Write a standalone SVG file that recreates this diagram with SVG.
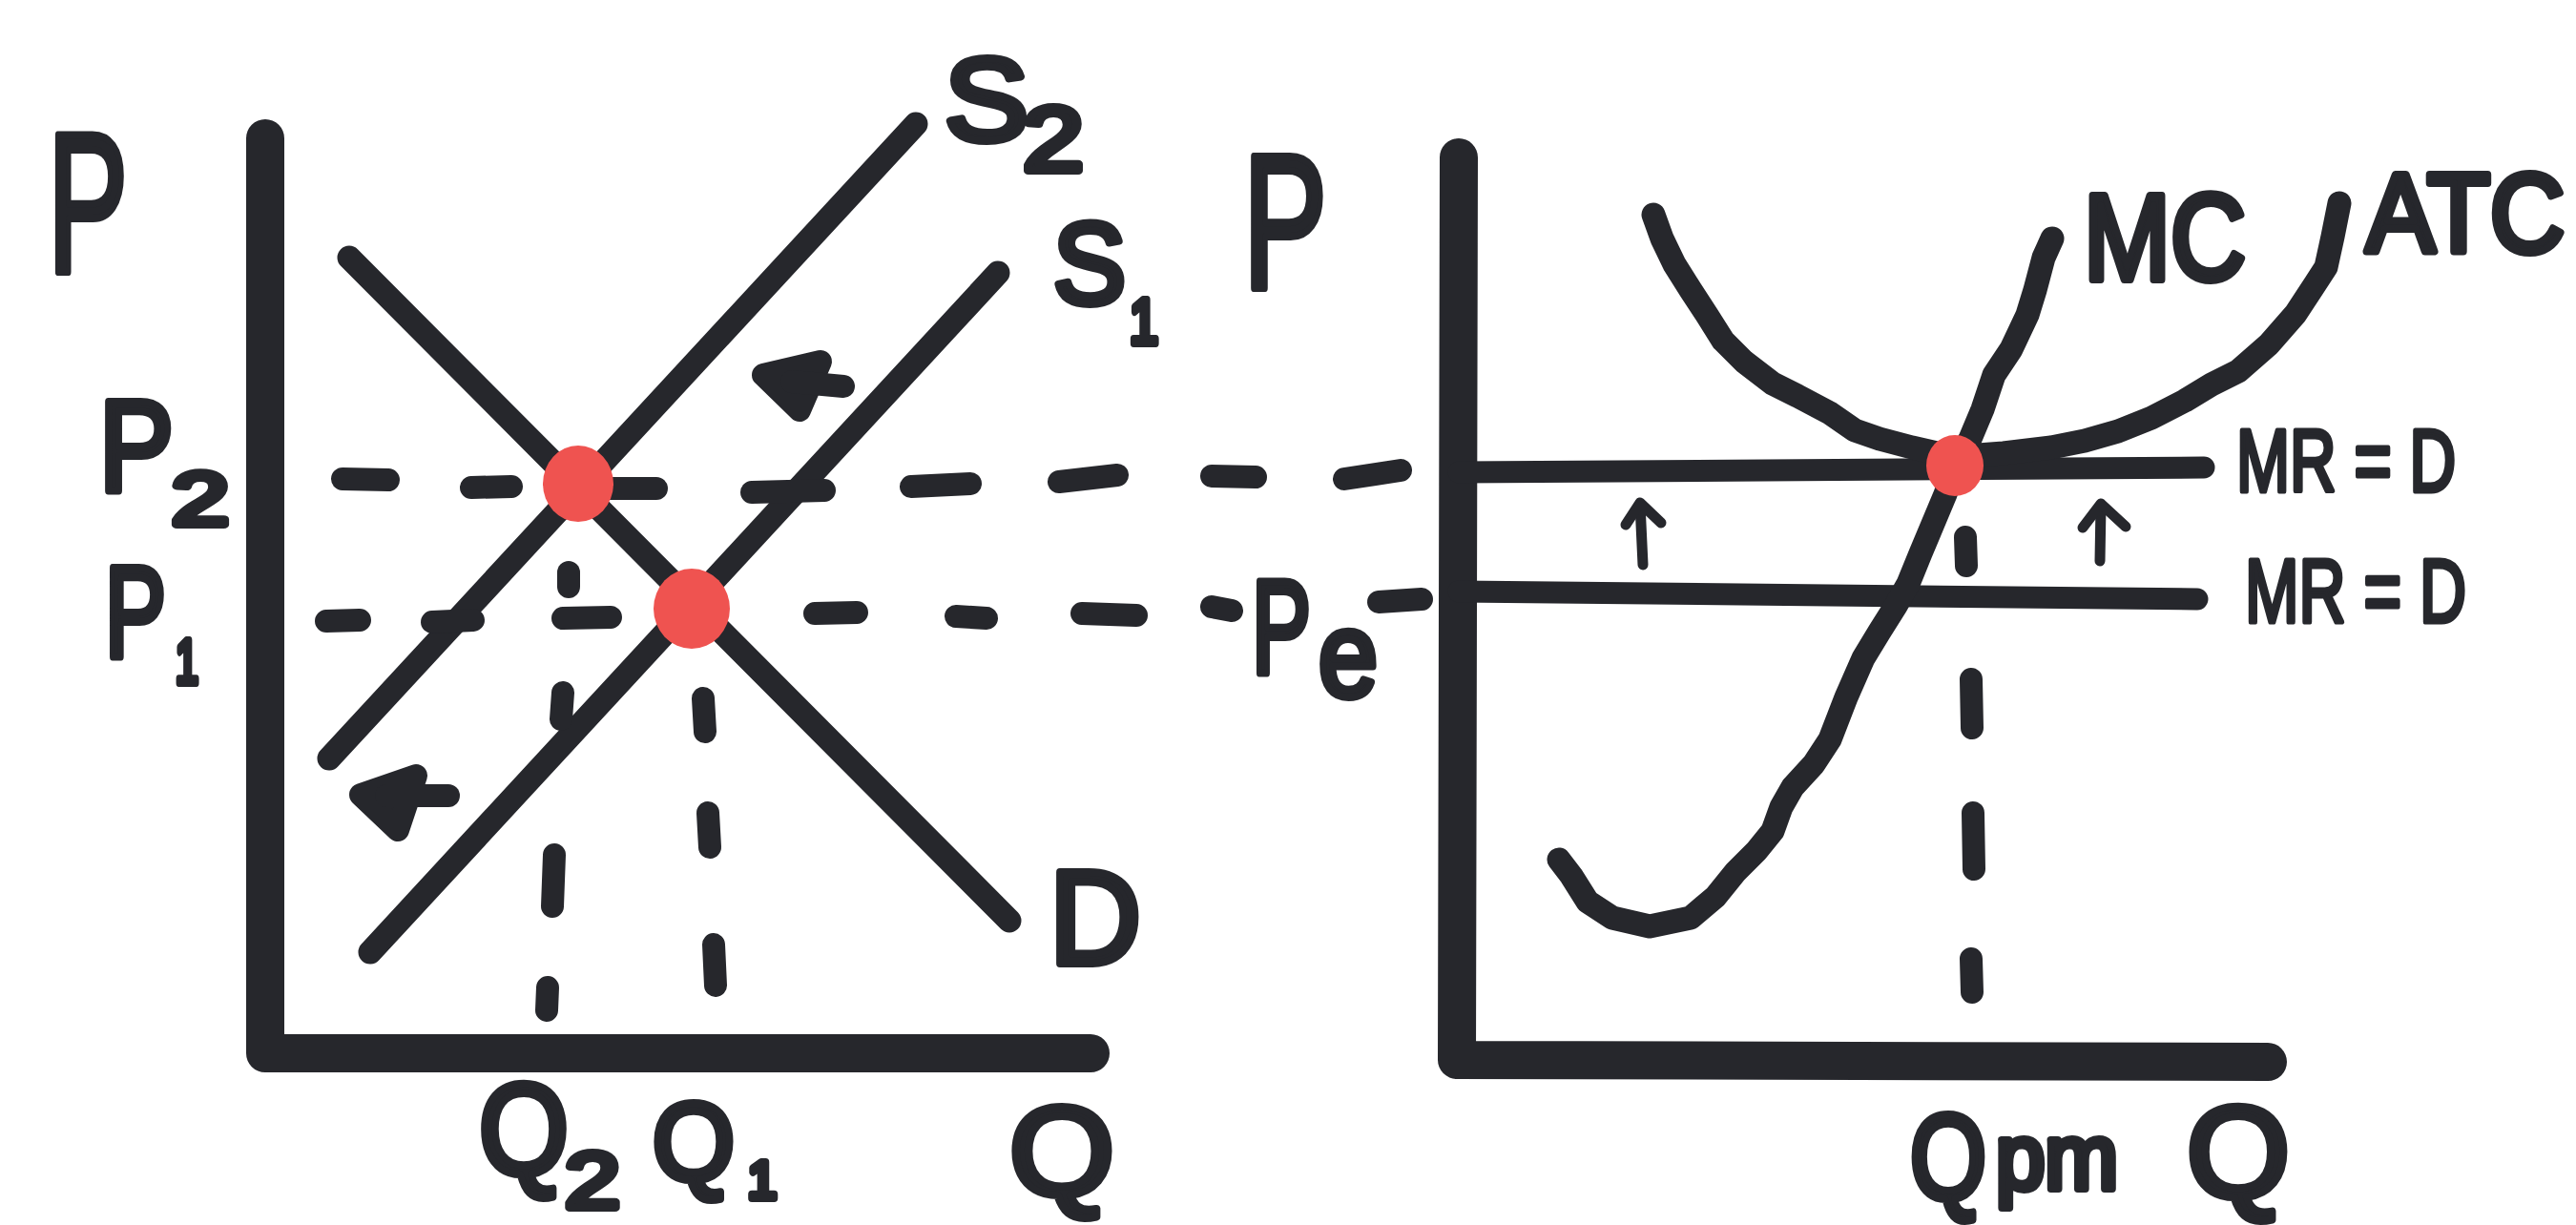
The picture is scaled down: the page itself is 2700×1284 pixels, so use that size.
<svg xmlns="http://www.w3.org/2000/svg" width="2700" height="1284" viewBox="0 0 2700 1284">
<style>
.ln{fill:none;stroke:#26272c;stroke-linecap:round;stroke-linejoin:round}
.ax{stroke-width:40}
.cv{stroke-width:25}
.mr{stroke-width:23}
.ds{stroke-width:24}
.ar{stroke-width:11}
.hd{fill:#26272c;stroke-width:24}
.dot{fill:#ef5350}
.t{font-family:"Liberation Sans",Arial,sans-serif;fill:#26272c;stroke:#26272c;stroke-width:8;stroke-linejoin:round}
.th{stroke-width:5}
</style>
<rect width="2700" height="1284" fill="#ffffff"/>

<g id="connectors">
  <path id="axes-left" class="ln ax" d="M278 145 L278 1104 L1143 1104"/>
  <path id="curve-S2" class="ln cv" d="M345 795 L960 130"/>
  <path id="curve-S1" class="ln cv" d="M388 998 L1046 286"/>
  <path id="curve-D" class="ln cv" d="M366 270 L1058 965"/>
  <g id="dash-P2" class="ln ds">
    <path d="M359 502 L407 503"/>
    <path d="M494 511 L536 510"/>
    <path d="M625 512 L688 512"/>
    <path d="M788 516 L864 514"/>
    <path d="M955 510 L1017 507"/>
    <path d="M1110 505 L1171 498"/>
    <path d="M1270 499 L1316 500"/>
    <path d="M1409 502 L1468 493"/>
  </g>
  <g id="dash-P1" class="ln ds">
    <path d="M342 651 L377 650"/>
    <path d="M453 652 L496 650"/>
    <path d="M590 648 L640 647"/>
    <path d="M854 643 L898 642"/>
    <path d="M1002 646 L1034 648"/>
    <path d="M1134 643 L1191 645"/>
    <path d="M1270 636 L1291 640"/>
    <path d="M1445 631 L1490 628"/>
  </g>
  <g id="dash-Q2" class="ln ds">
    <path d="M596 600 L596 615"/>
    <path d="M590 726 L588 754"/>
    <path d="M581 896 L579 950"/>
    <path d="M574 1035 L573 1059"/>
  </g>
  <g id="dash-Q1" class="ln ds">
    <path d="M737 732 L739 767"/>
    <path d="M742 852 L744 888"/>
    <path d="M748 990 L750 1033"/>
  </g>
  <g id="shift-arrows" class="ln hd">
    <path d="M800 393 L860 379 L838 430 Z"/>
    <path d="M830 400 L884 405"/>
    <path d="M378 833 L436 813 L417 870 Z"/>
    <path d="M405 834 L470 834"/>
  </g>

  <path id="axes-right" class="ln ax" d="M1529 165 L1527 1111 L2377 1113"/>
  <path id="mr-top" class="ln mr" d="M1529 495 L2310 490"/>
  <path id="mr-bottom" class="ln mr" d="M1529 620 L2303 628"/>
  <path id="curve-ATC" class="ln cv" d="M1733 225 L1742 250 L1755 277 L1772 304 L1789 330 L1806 357 L1828 379 L1858 402 L1884 415 L1918 433 L1944 451 L1970 460 L2004 469 L2035 476 L2060 478 L2100 475 L2150 469 L2185 462 L2220 452 L2255 438 L2290 420 L2318 403 L2346 389 L2378 361 L2406 329 L2427 297 L2438 280 L2445 248 L2452 213"/>
  <path id="curve-MC" class="ln cv" d="M2151 250 L2142 270 L2133 304 L2125 330 L2108 366 L2090 393 L2078 429 L2065 460 L2049 489 L2039 518 L2026 549 L2013 580 L2000 612 L1987 635 L1970 662 L1953 690 L1935 731 L1918 775 L1901 801 L1879 825 L1867 846 L1858 871 L1841 892 L1819 914 L1798 940 L1772 962 L1729 971 L1690 962 L1664 945 L1647 918 L1634 901"/>
  <g id="dash-Qpm" class="ln ds">
    <path d="M2060 563 L2061 593"/>
    <path d="M2066 712 L2067 763"/>
    <path d="M2068 852 L2069 911"/>
    <path d="M2066 1005 L2067 1040"/>
  </g>
  <g id="up-arrows" class="ln ar">
    <path d="M1722 592 L1719 528"/>
    <path d="M1704 550 L1719 527 L1741 548"/>
    <path d="M2201 588 L2202 530"/>
    <path d="M2183 553 L2202 528 L2228 552"/>
  </g>
</g>

<g id="points">
  <ellipse id="eq-P2" class="dot" cx="606" cy="507" rx="37" ry="40"/>
  <ellipse id="eq-P1" class="dot" cx="725" cy="638" rx="40" ry="42"/>
  <ellipse id="eq-firm" class="dot" cx="2049" cy="488" rx="30" ry="32"/>
</g>

<g id="labels-left">
  <g id="label-P-left"><text class="t" x="50" y="285" font-size="207" textLength="84" lengthAdjust="spacingAndGlyphs">P</text></g>
  <g id="label-P2"><text class="t" font-size="135"><tspan x="104" y="514" textLength="78" lengthAdjust="spacingAndGlyphs">P</tspan><tspan x="180" y="550" font-size="78" textLength="60" lengthAdjust="spacingAndGlyphs">2</tspan></text></g>
  <g id="label-P1"><text class="t" font-size="135"><tspan x="110" y="688" textLength="64" lengthAdjust="spacingAndGlyphs">P</tspan><tspan x="184" y="716" font-size="64" textLength="24" lengthAdjust="spacingAndGlyphs">1</tspan></text></g>
  <g id="label-S2"><text class="t" font-size="123"><tspan x="990" y="147" textLength="88" lengthAdjust="spacingAndGlyphs">S</tspan><tspan x="1072" y="179" font-size="96" textLength="64" lengthAdjust="spacingAndGlyphs">2</tspan></text></g>
  <g id="label-S1"><text class="t" font-size="120"><tspan x="1104" y="318" textLength="76" lengthAdjust="spacingAndGlyphs">S</tspan><tspan x="1184" y="360" font-size="66" textLength="30" lengthAdjust="spacingAndGlyphs">1</tspan></text></g>
  <g id="label-D"><text class="t" x="1100" y="1010" font-size="140" textLength="96" lengthAdjust="spacingAndGlyphs">D</text></g>
  <g id="label-Q2"><text class="t" font-size="136"><tspan x="502" y="1230" textLength="94" lengthAdjust="spacingAndGlyphs">Q</tspan><tspan x="592" y="1266" font-size="84" textLength="58" lengthAdjust="spacingAndGlyphs">2</tspan></text></g>
  <g id="label-Q1"><text class="t" font-size="115"><tspan x="684" y="1236" textLength="86" lengthAdjust="spacingAndGlyphs">Q</tspan><tspan x="784" y="1256" font-size="55" textLength="30" lengthAdjust="spacingAndGlyphs">1</tspan></text></g>
  <g id="label-Q-left"><text class="t" x="1058" y="1252" font-size="132" textLength="110" lengthAdjust="spacingAndGlyphs">Q</text></g>
</g>

<g id="labels-right">
  <g id="label-P-right"><text class="t" x="1303" y="302" font-size="200" textLength="88" lengthAdjust="spacingAndGlyphs">P</text></g>
  <g id="label-Pe"><text class="t" font-size="140"><tspan x="1312" y="705" textLength="62" lengthAdjust="spacingAndGlyphs">P</tspan><tspan x="1382" y="730" font-size="126" textLength="62" lengthAdjust="spacingAndGlyphs">e</tspan></text></g>
  <g id="label-MC"><text class="t" x="2184" y="293" font-size="128" textLength="170" lengthAdjust="spacingAndGlyphs">MC</text></g>
  <g id="label-ATC"><text class="t" x="2480" y="264" font-size="116" textLength="208" lengthAdjust="spacingAndGlyphs">ATC</text></g>
  <g id="label-MR-top"><text class="t th" x="2344" y="515" font-size="92" textLength="230" lengthAdjust="spacingAndGlyphs">MR = D</text></g>
  <g id="label-MR-bottom"><text class="t th" x="2353" y="652" font-size="95" textLength="232" lengthAdjust="spacingAndGlyphs">MR = D</text></g>
  <g id="label-Qpm"><text class="t" font-size="126"><tspan x="2002" y="1256" textLength="80" lengthAdjust="spacingAndGlyphs">Q</tspan><tspan x="2092" y="1246" font-size="96" textLength="128" lengthAdjust="spacingAndGlyphs">pm</tspan></text></g>
  <g id="label-Q-right"><text class="t" x="2292" y="1254" font-size="136" textLength="108" lengthAdjust="spacingAndGlyphs">Q</text></g>
</g>
</svg>
